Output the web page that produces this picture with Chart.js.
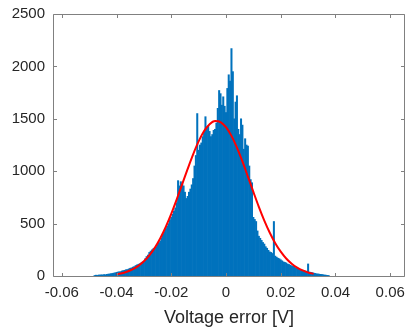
<!DOCTYPE html>
<html>
<head>
<meta charset="utf-8">
<script src="https://cdn.jsdelivr.net/npm/chart.js@4"></script>
<style>
  html, body { margin: 0; padding: 0; background: #fff; }
  canvas { display: block; }
</style>
</head>
<body>
<canvas id="hist" width="406" height="329"></canvas>
<script>
// histogram bins (centres start at binStart, step binWidth)
var binStart = -0.048;
var binWidth = 0.0005;
var counts = [
  5,8,6,10,9,12,10,14,12,16,
  18,20,22,25,28,30,35,38,40,42,
  48,52,55,60,62,68,74,78,85,90,
  100,106,112,118,125,132,140,165,186,200,
  225,238,250,262,270,280,300,318,335,365,
  405,425,450,475,500,535,560,590,620,650,
  700,910,860,900,880,860,800,740,760,800,
  830,870,930,1050,1150,1550,1200,1250,1270,1330,
  1380,1520,1420,1430,1380,1330,1350,1390,1400,1460,
  1600,1770,1740,1630,1710,1620,1560,1790,1920,1860,
  2170,1950,1500,1660,1720,1400,1350,1500,1440,1210,
  1310,1250,1240,1050,920,890,560,540,520,430,
  380,360,340,320,305,280,265,245,230,225,
  215,520,190,180,170,165,155,145,135,130,
  125,115,110,104,98,92,85,78,74,68,
  62,58,55,52,48,45,115,38,35,32,
  28,25,22,20,18,16,15,12,10,8,
  6,5
];

// fitted normal curve
var fitX = [-0.040,-0.038,-0.036,-0.034,-0.032,-0.030,-0.028,-0.026,-0.024,-0.022,
  -0.020,-0.018,-0.016,-0.014,-0.012,-0.010,-0.008,-0.006,-0.004,-0.002,
  0,0.002,0.004,0.006,0.008,0.010,0.012,0.014,0.016,0.018,
  0.020,0.022,0.024,0.026,0.028,0.030,0.032];
var fitY = [17,27,43,65,97,140,197,270,361,469,
  593,731,876,1022,1161,1284,1383,1449,1479,1469,
  1420,1337,1225,1093,949,803,660,529,413,313,
  232,167,117,80,53,34,21];

var xTicks = [-0.06,-0.04,-0.02,0,0.02,0.04,0.06];
var yTicks = [0,500,1000,1500,2000,2500];

var histData = [];
for (var i = 0; i < counts.length; i++) {
  histData.push({x: binStart + i * binWidth, y: counts[i]});
}
var fitData = [];
for (var j = 0; j < fitX.length; j++) {
  fitData.push({x: fitX[j], y: fitY[j]});
}

var axisCol = '#808080';

// MATLAB style box with inward ticks
var boxPlugin = {
  id: 'box',
  afterDatasetsDraw: function(chart) {
    var ctx = chart.ctx, a = chart.chartArea;
    var xs = chart.scales.x, ys = chart.scales.y;
    var L = Math.round(a.left) + 0.5, R = Math.round(a.right) - 0.5;
    var T = Math.round(a.top) + 0.5, B = Math.round(a.bottom) + 0.5;
    ctx.save();
    ctx.strokeStyle = axisCol;
    ctx.lineWidth = 1;
    ctx.beginPath();
    ctx.rect(L, T, R - L, B - T);
    xTicks.forEach(function(v) {
      var px = Math.round(xs.getPixelForValue(v)) + 0.5;
      ctx.moveTo(px, B); ctx.lineTo(px, B - 3.5);
      ctx.moveTo(px, T); ctx.lineTo(px, T + 3.5);
    });
    yTicks.forEach(function(v) {
      var py = Math.round(ys.getPixelForValue(v)) + 0.5;
      ctx.moveTo(L, py); ctx.lineTo(L + 3.5, py);
      ctx.moveTo(R, py); ctx.lineTo(R - 3.5, py);
    });
    ctx.stroke();
    ctx.restore();
  }
};

new Chart(document.getElementById('hist'), {
  type: 'bar',
  data: {
    datasets: [{
      type: 'line',
      data: fitData,
      borderColor: '#ff0000',
      borderWidth: 2,
      pointRadius: 0,
      fill: false,
      cubicInterpolationMode: 'monotone',
      order: 0
    }, {
      type: 'bar',
      data: histData,
      backgroundColor: '#0072bd',
      borderWidth: 0,
      barPercentage: 1,
      categoryPercentage: 1,
      order: 1
    }]
  },
  options: {
    responsive: false,
    animation: false,
    devicePixelRatio: 1,
    layout: { padding: { top: 14, right: 1, left: 0, bottom: 0 } },
    plugins: { legend: { display: false }, tooltip: { enabled: false } },
    scales: {
      x: {
        type: 'linear',
        offset: false,
        min: -0.0632,
        max: 0.0654,
        grid: { display: false, drawTicks: false },
        border: { display: false },
        afterBuildTicks: function(s) { s.ticks = xTicks.map(function(v){ return {value: v}; }); },
        afterFit: function(s) { s.height = 53; s.paddingLeft = 0; s.paddingRight = 0; },
        ticks: {
          autoSkip: false,
          maxRotation: 0,
          padding: 8,
          color: '#262626',
          font: { family: 'Liberation Sans', size: 15 },
          callback: function(v) { return String(Number(v.toFixed(2))); }
        },
        title: {
          display: true,
          text: 'Voltage error [V]',
          color: '#262626',
          font: { family: 'Liberation Sans', size: 18 },
          padding: { top: 0, bottom: 0 }
        }
      },
      y: {
        min: 0,
        max: 2500,
        grid: { display: false, drawTicks: false },
        border: { display: false },
        afterBuildTicks: function(s) { s.ticks = yTicks.map(function(v){ return {value: v}; }); },
        afterFit: function(s) { s.width = 53; s.paddingTop = 0; s.paddingBottom = 0; },
        ticks: {
          padding: 8,
          color: '#262626',
          font: { family: 'Liberation Sans', size: 15 },
          callback: function(v) { return String(v); }
        }
      }
    }
  },
  plugins: [boxPlugin]
});
</script>
</body>
</html>
